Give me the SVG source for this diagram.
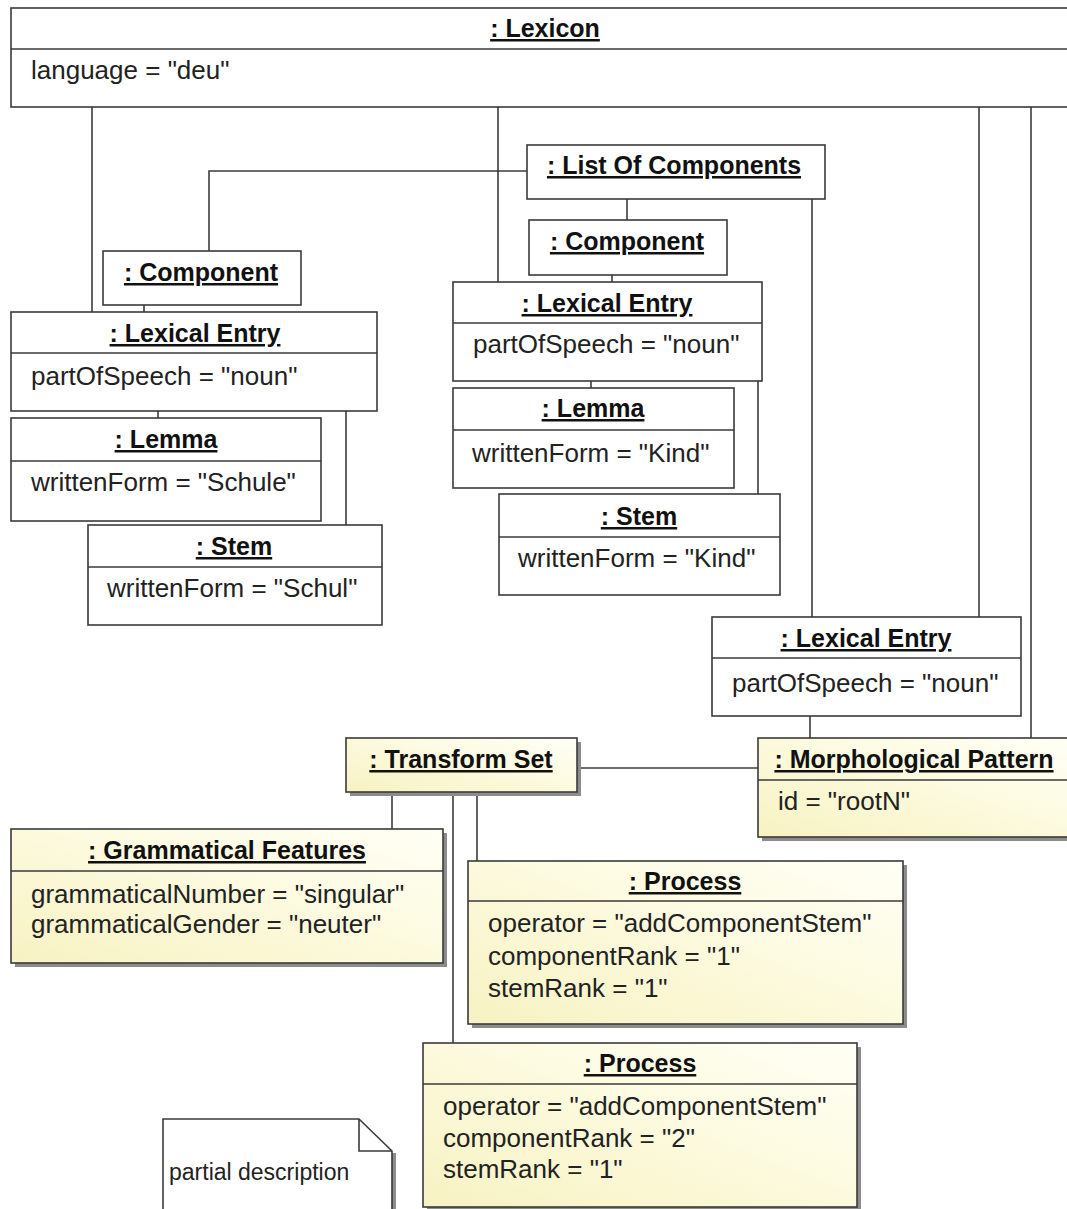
<svg xmlns="http://www.w3.org/2000/svg" width="1067" height="1209" viewBox="0 0 1067 1209">
  <style>
    .box { fill: #ffffff; stroke: #3a3a3a; stroke-width: 1.6; }
    .ybox { fill: url(#yellowFill); stroke: #3a3a3a; stroke-width: 1.6; }
    .shadow { fill: #8c8c8c; }
    .div { stroke: #3a3a3a; stroke-width: 1.6; fill: none; }
    .conn { stroke: #3c3c3c; stroke-width: 1.6; fill: none; }
    .title { font-family: "Liberation Sans", Arial, sans-serif; font-size: 25px; font-weight: bold; fill: #111111; text-anchor: middle; text-decoration: underline; }
    .attr { font-family: "Liberation Sans", Arial, sans-serif; font-size: 26px; fill: #222222; }
    .note { font-family: "Liberation Sans", Arial, sans-serif; font-size: 23px; fill: #222222; }
  </style>
  <defs>
    <linearGradient id="yellowFill" x1="0" y1="1" x2="1" y2="0">
      <stop offset="0" stop-color="#f7f2c2"/>
      <stop offset="0.6" stop-color="#fdfbe2"/>
      <stop offset="1" stop-color="#fffff6"/>
    </linearGradient>
  </defs>

  <rect width="1067" height="1209" fill="#ffffff"/>

  <!-- associations between the objects -->
  <g id="connectors">
    <path class="conn" d="M92,107 V312"/>
    <path class="conn" d="M498,107 V282"/>
    <path class="conn" d="M979,107 V617"/>
    <path class="conn" d="M1031,107 V738"/>
    <path class="conn" d="M527,171 H209 V251"/>
    <path class="conn" d="M627,199 V220"/>
    <path class="conn" d="M812,199 V617"/>
    <path class="conn" d="M144,305 V312"/>
    <path class="conn" d="M612,275 V282"/>
    <path class="conn" d="M158,411 V418"/>
    <path class="conn" d="M346,411 V525"/>
    <path class="conn" d="M591,381 V388"/>
    <path class="conn" d="M758,381 V494"/>
    <path class="conn" d="M810,716 V738"/>
    <path class="conn" d="M577,768 H758"/>
    <path class="conn" d="M392,792 V829"/>
    <path class="conn" d="M453,792 V1043"/>
    <path class="conn" d="M477,792 V861"/>
  </g>

  <g id="lexicon">
    <rect class="box" x="11" y="8" width="1064" height="99"/>
    <line class="div" x1="11" y1="49" x2="1075" y2="49"/>
    <text class="title" x="545" y="37">: Lexicon</text>
    <text class="attr" x="31" y="79">language = "deu"</text>
  </g>

  <g id="list-of-components">
    <rect class="box" x="527" y="145" width="298" height="54"/>
    <text class="title" x="674" y="174">: List Of Components</text>
  </g>

  <g id="component-1">
    <rect class="box" x="103" y="251" width="198" height="54"/>
    <text class="title" x="201" y="281">: Component</text>
  </g>

  <g id="component-2">
    <rect class="box" x="529" y="220" width="198" height="55"/>
    <text class="title" x="627" y="250">: Component</text>
  </g>

  <g id="lexical-entry-1">
    <rect class="box" x="11" y="312" width="366" height="99"/>
    <line class="div" x1="11" y1="353" x2="377" y2="353"/>
    <text class="title" x="195" y="342">: Lexical Entry</text>
    <text class="attr" x="31" y="385">partOfSpeech = "noun"</text>
  </g>

  <g id="lemma-1">
    <rect class="box" x="11" y="418" width="310" height="103"/>
    <line class="div" x1="11" y1="461" x2="321" y2="461"/>
    <text class="title" x="166" y="448">: Lemma</text>
    <text class="attr" x="31" y="491">writtenForm = "Schule"</text>
  </g>

  <g id="stem-1">
    <rect class="box" x="88" y="525" width="294" height="100"/>
    <line class="div" x1="88" y1="567" x2="382" y2="567"/>
    <text class="title" x="234" y="555">: Stem</text>
    <text class="attr" x="107" y="597">writtenForm = "Schul"</text>
  </g>

  <g id="lexical-entry-2">
    <rect class="box" x="453" y="282" width="309" height="99"/>
    <line class="div" x1="453" y1="323" x2="762" y2="323"/>
    <text class="title" x="607" y="312">: Lexical Entry</text>
    <text class="attr" x="473" y="353">partOfSpeech = "noun"</text>
  </g>

  <g id="lemma-2">
    <rect class="box" x="453" y="388" width="281" height="100"/>
    <line class="div" x1="453" y1="430" x2="734" y2="430"/>
    <text class="title" x="593" y="417">: Lemma</text>
    <text class="attr" x="472" y="462">writtenForm = "Kind"</text>
  </g>

  <g id="stem-2">
    <rect class="box" x="499" y="494" width="281" height="101"/>
    <line class="div" x1="499" y1="537" x2="780" y2="537"/>
    <text class="title" x="639" y="525">: Stem</text>
    <text class="attr" x="518" y="567">writtenForm = "Kind"</text>
  </g>

  <g id="lexical-entry-3">
    <rect class="box" x="712" y="617" width="309" height="99"/>
    <line class="div" x1="712" y1="658" x2="1021" y2="658"/>
    <text class="title" x="866" y="647">: Lexical Entry</text>
    <text class="attr" x="732" y="692">partOfSpeech = "noun"</text>
  </g>

  <g id="morphological-pattern">
    <rect class="shadow" x="762" y="742" width="312" height="99"/>
    <rect class="ybox" x="758" y="738" width="312" height="99"/>
    <line class="div" x1="758" y1="780" x2="1070" y2="780"/>
    <text class="title" x="914" y="768">: Morphological Pattern</text>
    <text class="attr" x="778" y="810">id = "rootN"</text>
  </g>

  <g id="transform-set">
    <rect class="shadow" x="350" y="742" width="231" height="54"/>
    <rect class="ybox" x="346" y="738" width="231" height="54"/>
    <text class="title" x="461" y="768">: Transform Set</text>
  </g>

  <g id="grammatical-features">
    <rect class="shadow" x="15" y="833" width="432" height="134"/>
    <rect class="ybox" x="11" y="829" width="432" height="134"/>
    <line class="div" x1="11" y1="871" x2="443" y2="871"/>
    <text class="title" x="227" y="859">: Grammatical Features</text>
    <text class="attr" x="31" y="903">grammaticalNumber = "singular"</text>
    <text class="attr" x="31" y="933">grammaticalGender = "neuter"</text>
  </g>

  <g id="process-1">
    <rect class="shadow" x="472" y="865" width="435" height="163"/>
    <rect class="ybox" x="468" y="861" width="435" height="163"/>
    <line class="div" x1="468" y1="901" x2="903" y2="901"/>
    <text class="title" x="685" y="890">: Process</text>
    <text class="attr" x="488" y="932">operator = "addComponentStem"</text>
    <text class="attr" x="488" y="965">componentRank = "1"</text>
    <text class="attr" x="488" y="997">stemRank = "1"</text>
  </g>

  <g id="process-2">
    <rect class="shadow" x="427" y="1047" width="434" height="164"/>
    <rect class="ybox" x="423" y="1043" width="434" height="164"/>
    <line class="div" x1="423" y1="1084" x2="857" y2="1084"/>
    <text class="title" x="640" y="1072">: Process</text>
    <text class="attr" x="443" y="1115">operator = "addComponentStem"</text>
    <text class="attr" x="443" y="1147">componentRank = "2"</text>
    <text class="attr" x="443" y="1178">stemRank = "1"</text>
  </g>

  <g id="note">
    <path class="shadow" d="M392,1153 H396 V1215 H392 Z"/>
    <path class="box" d="M163,1119 H359 L392,1151 V1215 H163 Z"/>
    <path class="div" d="M359,1119 V1151 H392"/>
    <text class="note" x="169" y="1180">partial description</text>
  </g>
</svg>
